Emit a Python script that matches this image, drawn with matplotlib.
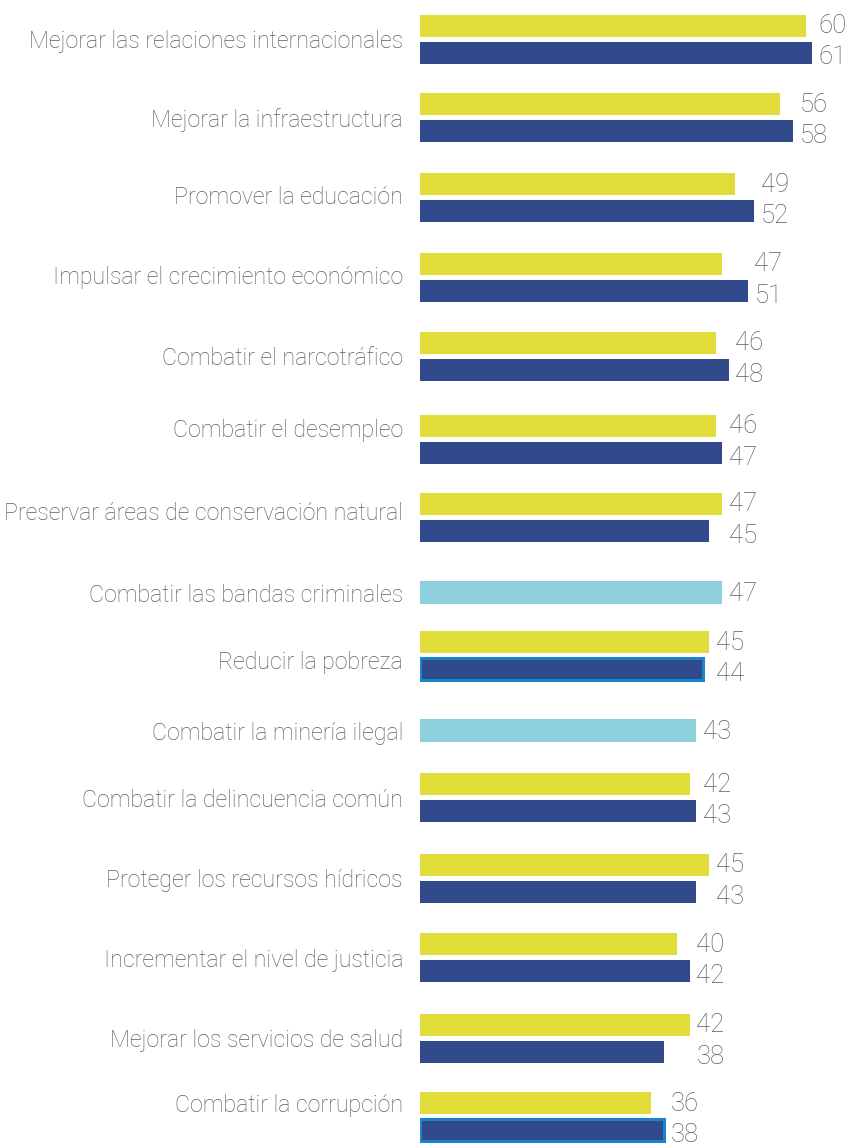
import matplotlib
matplotlib.use("Agg")
import matplotlib.pyplot as plt

categories = [
    "Mejorar las relaciones internacionales",
    "Mejorar la infraestructura",
    "Promover la educación",
    "Impulsar el crecimiento económico",
    "Combatir el narcotráfico",
    "Combatir el desempleo",
    "Preservar áreas de conservación natural",
    "Combatir las bandas criminales",
    "Reducir la pobreza",
    "Combatir la minería ilegal",
    "Combatir la delincuencia común",
    "Proteger los recursos hídricos",
    "Incrementar el nivel de justicia",
    "Mejorar los servicios de salud",
    "Combatir la corrupción",
]
# None = no paired values (single bar shown in 'single')
serie_a = [60, 56, 49, 47, 46, 46, 47, None, 45, None, 42, 45, 40, 42, 36]
serie_b = [61, 58, 52, 51, 48, 47, 45, None, 44, None, 43, 43, 42, 38, 38]
single = [None, None, None, None, None, None, None, 47, None, 43, None, None, None, None, None]
highlight_b = [False]*8 + [True] + [False]*5 + [True]

# layout (row centres in row units, label nudges in px)
row_pos = [0, 0.99, 1.99, 2.99, 3.98, 5.02, 6.0, 6.95, 7.74, 8.68, 9.52, 10.53, 11.53, 12.54, 13.52]
label_nudge = [0, 0, -3, -2, 0, -11, -6, 0, 4, 0, 0, 0, 0, 0, -14]

YEL = "#E0DC3A"
BLU = "#304A8C"
LBL = "#8DCFDB"
EDGE = "#1A86C8"
TXT = "#5F5F5F"

plt.rcParams['font.family'] = ['Roboto', 'DejaVu Sans']

fig = plt.figure(figsize=(8.48, 11.45), dpi=100)
ax = fig.add_axes([420/848, 0, 428/848, 1])
px_per_unit = 6.43
row_px = 79.7
ax.set_xlim(0, 428/px_per_unit)
ax.set_ylim((1145-39)/row_px, -39/row_px)
ax.axis('off')

h = 22/row_px
off = 13.5/row_px
lab_fs = 16.7
val_fs = 18.5

for i, cat in enumerate(categories):
    y = row_pos[i]
    ax.text(-17/px_per_unit, y + (label_nudge[i] + 2.5)/row_px, cat, ha='right', va='center',
            fontsize=lab_fs, color=TXT, fontweight='light', clip_on=False)
    if single[i] is not None:
        ax.barh(y, single[i], height=23/row_px, color=LBL, left=0)
        ax.text(single[i] + 1.0, y + 1/row_px, f"{single[i]}", ha='left', va='center',
                fontsize=val_fs, color=TXT, fontweight='light')
    else:
        a, b = serie_a[i], serie_b[i]
        ax.barh(y - off, a, height=h, color=YEL)
        if highlight_b[i]:
            ax.barh(y + off, b, height=h, color=BLU, edgecolor=EDGE, linewidth=2.2)
        else:
            ax.barh(y + off, b, height=h, color=BLU)
        xt = max(a, b) + 1.0
        ax.text(xt, y - off + 0.5/row_px, f"{a}", ha='left', va='center',
                fontsize=val_fs, color=TXT, fontweight='light')
        ax.text(xt, y + off + 5/row_px, f"{b}", ha='left', va='center',
                fontsize=val_fs, color=TXT, fontweight='light')

fig.savefig("out.png", dpi=100)
